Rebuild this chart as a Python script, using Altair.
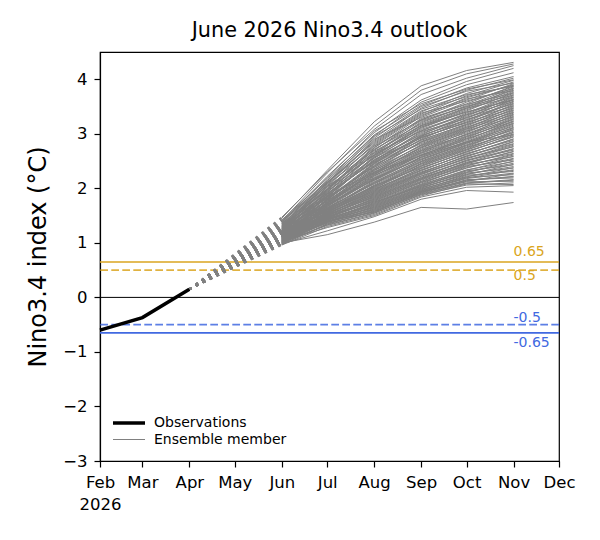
import altair as alt
import pandas as pd

# ---------------- data ----------------
month_ticks = ["2026-02-01", "2026-03-01", "2026-04-01", "2026-05-01", "2026-06-01",
               "2026-07-01", "2026-08-01", "2026-09-01", "2026-10-01", "2026-11-01",
               "2026-12-01"]

obs_dates = ["2026-02-01", "2026-03-01", "2026-04-01"]
obs_values = [-0.60, -0.37, 0.15]

fc_dates = ["2026-06-01", "2026-07-01", "2026-08-01", "2026-09-01", "2026-10-01", "2026-11-01"]

# each member: Jun, Jul, Aug, Sep, Oct, Nov
ensemble = [
    [1.45, 2.33, 3.22, 3.88, 4.16, 4.31],
    [1.40, 2.28, 3.14, 3.80, 4.10, 4.28],
    [1.47, 2.30, 3.08, 3.72, 4.02, 4.25],
    [1.38, 2.22, 3.02, 3.62, 3.96, 4.20],
    [1.42, 2.18, 2.96, 3.58, 3.90, 4.12],
    [1.36, 2.15, 2.98, 3.52, 3.84, 4.05],
    [1.31, 2.10, 2.88, 3.47, 3.80, 4.02],
    [1.34, 2.12, 2.84, 3.40, 3.74, 3.98],
    [1.28, 2.05, 2.80, 3.36, 3.70, 3.95],
    [1.30, 2.06, 2.90, 3.30, 3.62, 3.92],
    [1.25, 2.00, 2.74, 3.32, 3.66, 3.90],
    [1.39, 2.08, 2.70, 3.28, 3.55, 3.88],
    [1.22, 1.98, 2.77, 3.25, 3.58, 3.86],
    [1.27, 2.02, 2.66, 3.20, 3.52, 3.84],
    [1.33, 1.96, 2.72, 3.18, 3.48, 3.82],
    [1.20, 1.95, 2.62, 3.22, 3.50, 3.80],
    [1.24, 1.92, 2.68, 3.14, 3.46, 3.78],
    [1.35, 2.04, 2.60, 3.10, 3.42, 3.76],
    [1.18, 1.90, 2.58, 3.12, 3.44, 3.74],
    [1.26, 1.88, 2.64, 3.05, 3.38, 3.72],
    [1.21, 1.94, 2.55, 3.08, 3.36, 3.70],
    [1.29, 1.86, 2.52, 3.02, 3.32, 3.68],
    [1.16, 1.84, 2.56, 2.98, 3.34, 3.66],
    [1.23, 1.89, 2.50, 3.04, 3.28, 3.64],
    [1.32, 1.91, 2.48, 2.95, 3.30, 3.62],
    [1.14, 1.80, 2.45, 2.97, 3.24, 3.60],
    [1.19, 1.85, 2.53, 2.92, 3.22, 3.58],
    [1.28, 1.82, 2.42, 2.90, 3.26, 3.56],
    [1.12, 1.78, 2.46, 2.88, 3.18, 3.54],
    [1.17, 1.83, 2.40, 2.94, 3.20, 3.52],
    [1.25, 1.76, 2.38, 2.85, 3.14, 3.50],
    [1.10, 1.75, 2.35, 2.86, 3.16, 3.48],
    [1.21, 1.79, 2.44, 2.82, 3.10, 3.46],
    [1.15, 1.72, 2.32, 2.80, 3.12, 3.44],
    [1.30, 1.81, 2.36, 2.78, 3.06, 3.42],
    [1.08, 1.70, 2.30, 2.76, 3.08, 3.40],
    [1.13, 1.74, 2.28, 2.74, 3.02, 3.38],
    [1.22, 1.77, 2.34, 2.70, 3.04, 3.36],
    [1.11, 1.68, 2.25, 2.72, 2.98, 3.34],
    [1.19, 1.73, 2.26, 2.66, 3.00, 3.32],
    [1.06, 1.66, 2.22, 2.68, 2.96, 3.30],
    [1.16, 1.70, 2.20, 2.64, 2.92, 3.28],
    [1.26, 1.72, 2.24, 2.60, 2.94, 3.26],
    [1.09, 1.64, 2.18, 2.62, 2.88, 3.24],
    [1.14, 1.67, 2.16, 2.58, 2.90, 3.22],
    [1.04, 1.62, 2.14, 2.56, 2.86, 3.20],
    [1.20, 1.69, 2.19, 2.54, 2.84, 3.18],
    [1.12, 1.63, 2.12, 2.52, 2.82, 3.16],
    [1.07, 1.60, 2.10, 2.50, 2.80, 3.12],
    [1.18, 1.65, 2.08, 2.48, 2.76, 3.10],
    [1.02, 1.58, 2.06, 2.46, 2.78, 3.08],
    [1.10, 1.61, 2.04, 2.44, 2.72, 3.05],
    [1.15, 1.59, 2.02, 2.42, 2.74, 3.02],
    [1.05, 1.56, 2.00, 2.40, 2.70, 3.00],
    [1.23, 1.62, 2.05, 2.38, 2.66, 2.97],
    [1.08, 1.55, 1.98, 2.36, 2.68, 2.94],
    [1.13, 1.57, 1.96, 2.34, 2.62, 2.91],
    [1.01, 1.53, 1.95, 2.32, 2.64, 2.88],
    [1.17, 1.58, 1.94, 2.30, 2.58, 2.85],
    [1.06, 1.52, 1.92, 2.28, 2.60, 2.82],
    [1.11, 1.54, 1.90, 2.26, 2.54, 2.79],
    [1.03, 1.50, 1.88, 2.25, 2.56, 2.76],
    [1.19, 1.55, 1.87, 2.22, 2.50, 2.73],
    [1.07, 1.49, 1.86, 2.20, 2.52, 2.70],
    [1.14, 1.51, 1.84, 2.18, 2.46, 2.67],
    [1.00, 1.47, 1.82, 2.17, 2.48, 2.64],
    [1.09, 1.48, 1.80, 2.15, 2.42, 2.61],
    [1.16, 1.50, 1.79, 2.12, 2.44, 2.58],
    [1.04, 1.45, 1.78, 2.10, 2.38, 2.55],
    [1.12, 1.46, 1.76, 2.08, 2.40, 2.52],
    [0.99, 1.43, 1.74, 2.07, 2.34, 2.49],
    [1.08, 1.44, 1.72, 2.05, 2.30, 2.46],
    [1.21, 1.48, 1.75, 2.03, 2.32, 2.43],
    [1.02, 1.41, 1.70, 2.02, 2.26, 2.40],
    [1.10, 1.42, 1.68, 2.00, 2.28, 2.37],
    [0.98, 1.39, 1.66, 1.98, 2.22, 2.34],
    [1.06, 1.40, 1.65, 1.97, 2.24, 2.31],
    [1.15, 1.43, 1.64, 1.95, 2.18, 2.28],
    [1.01, 1.37, 1.62, 1.96, 2.20, 2.25],
    [1.09, 1.38, 1.60, 1.94, 2.14, 2.22],
    [0.97, 1.35, 1.58, 1.92, 2.16, 2.19],
    [1.05, 1.36, 1.57, 1.90, 2.10, 2.16],
    [1.13, 1.40, 1.56, 1.93, 2.12, 2.13],
    [1.00, 1.33, 1.55, 1.88, 2.06, 2.10],
    [0.96, 1.30, 1.52, 1.86, 2.08, 2.07],
    [1.03, 1.28, 1.50, 1.84, 2.02, 2.05],
    [0.98, 1.22, 1.48, 1.80, 1.96, 1.93],
    [1.00, 1.15, 1.38, 1.65, 1.62, 1.74],
    [1.37, 2.20, 3.05, 3.55, 3.82, 3.99],
    [1.32, 2.14, 2.92, 3.50, 3.78, 3.93],
    [1.29, 2.09, 2.86, 3.42, 3.68, 3.89],
    [1.24, 2.03, 2.82, 3.38, 3.60, 3.83],
    [1.41, 2.11, 2.78, 3.34, 3.64, 3.79],
    [1.18, 1.97, 2.75, 3.26, 3.54, 3.75],
    [1.27, 1.99, 2.70, 3.24, 3.50, 3.71],
    [1.22, 1.93, 2.65, 3.16, 3.47, 3.67],
    [1.36, 1.98, 2.61, 3.12, 3.40, 3.63],
    [1.15, 1.87, 2.57, 3.06, 3.35, 3.59],
    [1.20, 1.86, 2.51, 3.00, 3.30, 3.55],
    [1.31, 1.90, 2.49, 2.96, 3.26, 3.51],
    [1.10, 1.81, 2.47, 2.93, 3.21, 3.47],
    [1.17, 1.79, 2.41, 2.89, 3.17, 3.43],
    [1.27, 1.84, 2.39, 2.84, 3.12, 3.39],
    [1.07, 1.73, 2.33, 2.79, 3.09, 3.35],
    [1.14, 1.75, 2.29, 2.75, 3.05, 3.31],
    [1.24, 1.78, 2.27, 2.69, 2.99, 3.27],
    [1.05, 1.67, 2.23, 2.65, 2.95, 3.23],
    [1.12, 1.69, 2.17, 2.61, 2.91, 3.19],
    [1.19, 1.71, 2.15, 2.57, 2.85, 3.14],
    [1.03, 1.63, 2.11, 2.53, 2.83, 3.11],
    [1.11, 1.64, 2.09, 2.49, 2.79, 3.07],
    [1.16, 1.61, 2.03, 2.45, 2.75, 3.03],
    [1.02, 1.57, 2.01, 2.41, 2.71, 2.99],
    [1.09, 1.56, 1.97, 2.37, 2.67, 2.95],
    [1.20, 1.60, 1.99, 2.33, 2.63, 2.90],
    [1.04, 1.54, 1.93, 2.29, 2.59, 2.86],
    [1.13, 1.53, 1.91, 2.27, 2.55, 2.81],
    [1.00, 1.50, 1.89, 2.23, 2.51, 2.77],
    [1.08, 1.51, 1.85, 2.19, 2.47, 2.72],
    [1.17, 1.52, 1.83, 2.16, 2.45, 2.68],
    [1.03, 1.46, 1.81, 2.13, 2.41, 2.63],
    [1.10, 1.47, 1.77, 2.11, 2.37, 2.59],
    [0.99, 1.42, 1.73, 2.06, 2.33, 2.54],
    [1.07, 1.44, 1.71, 2.04, 2.29, 2.50],
    [1.14, 1.45, 1.69, 2.01, 2.25, 2.44],
    [1.01, 1.39, 1.67, 1.99, 2.21, 2.38],
    [1.05, 1.38, 1.63, 1.95, 2.19, 2.33],
    [0.97, 1.34, 1.59, 1.91, 2.13, 2.27],
    [1.11, 1.39, 1.61, 1.93, 2.15, 2.21],
    [1.02, 1.32, 1.54, 1.89, 2.09, 2.15],
    [1.20, 2.10, 2.95, 3.45, 3.72, 3.87],
    [1.05, 1.80, 2.60, 3.15, 3.40, 3.62],
    [1.35, 1.85, 2.30, 2.60, 2.85, 2.98],
]

thresholds = [0.65, 0.5, -0.5, -0.65]
threshold_labels = ["0.65", "0.5", "-0.5", "-0.65"]
series_names = ["Observations", "Ensemble member"]

title_text = "June 2026 Nino3.4 outlook"
y_title = "Nino3.4 index (°C)"

# ---------------- tables ----------------
obs_df = pd.DataFrame({"date": obs_dates, "value": obs_values, "series": series_names[0]})

ens_rows, conn_rows = [], []
for i, member in enumerate(ensemble):
    for d, v in zip(fc_dates, member):
        ens_rows.append({"member": i, "date": d, "value": v, "series": series_names[1]})
    conn_rows.append({"member": i, "date": obs_dates[-1], "value": obs_values[-1]})
    conn_rows.append({"member": i, "date": fc_dates[0], "value": member[0]})
ens_df = pd.DataFrame(ens_rows)
conn_df = pd.DataFrame(conn_rows)

FONT = "DejaVu Sans"
GOLD = "#DAA520"
BLUE = "#4169E1"


def dt(s):
    y, m, d = (int(p) for p in s.split("-"))
    return alt.DateTime(year=y, month=m, date=d, utc=True)


x_enc = alt.X(
    "date:T",
    scale=alt.Scale(type="utc", domain=[dt(month_ticks[0]), dt(month_ticks[-1])]),
    axis=alt.Axis(
        title=None,
        values=[dt(s) for s in month_ticks],
        labelExpr="utcmonth(datum.value) == 1 ? [utcFormat(datum.value, '%b'), utcFormat(datum.value, '%Y')] : utcFormat(datum.value, '%b')",
        labelFlush=False,
        labelOverlap=False,
        labelBound=False,
        labelLineHeight=22,
        labelPadding=7,
        grid=False,
    ),
)
y_enc = alt.Y(
    "value:Q",
    scale=alt.Scale(domain=[-3, 4.5], nice=False, zero=False),
    axis=alt.Axis(
        title=y_title,
        values=list(range(-3, 5)),
        format="d",
        labelExpr="replace(datum.label, '-', '\u2212')",
        labelPadding=7,
        titlePadding=12,
        titleFontSize=24,
        titleFontWeight="normal",
        titleFont=FONT,
        titleColor="black",
        grid=False,
    ),
)

color_scale = alt.Scale(domain=series_names, range=["black", "gray"])
width_scale = alt.Scale(domain=series_names, range=[3.5, 1.0])
legend = alt.Legend(
    title=None,
    orient="bottom-left",
    symbolType="M-1.375,0H2.625",
    symbolSize=256,
    labelFontSize=14,
    labelFont=FONT,
    labelColor="black",
    labelOffset=20,
    offset=14,
    padding=0,
    rowPadding=1,
)

# threshold lines
rules = []
rule_styles = [
    dict(color=GOLD, strokeWidth=1.6),
    dict(color=GOLD, strokeWidth=1.6, strokeDash=[7.7, 3.3], opacity=0.85),
    dict(color=BLUE, strokeWidth=1.6, strokeDash=[7.7, 3.3], opacity=0.85),
    dict(color=BLUE, strokeWidth=1.6),
]
for v, style in zip(thresholds, rule_styles):
    rules.append(
        alt.Chart(pd.DataFrame({"value": [v]})).mark_rule(**style).encode(y="value:Q")
    )
zero_rule = alt.Chart(pd.DataFrame({"value": [0.0]})).mark_rule(color="black", strokeWidth=1).encode(y="value:Q")

# threshold labels
label_styles = [
    dict(color=GOLD, dy=-6, baseline="alphabetic"),
    dict(color=GOLD, dy=-1, baseline="top"),
    dict(color=BLUE, dy=-3, baseline="alphabetic"),
    dict(color=BLUE, dy=3, baseline="top"),
]
texts = []
for v, lab, style in zip(thresholds, threshold_labels, label_styles):
    df = pd.DataFrame({"date": [fc_dates[-1]], "value": [v], "label": [lab]})
    texts.append(
        alt.Chart(df).mark_text(align="left", fontSize=14, font=FONT, **style).encode(
            x="date:T", y="value:Q", text="label:N"
        )
    )

connectors = alt.Chart(conn_df).mark_line(
    color="gray", strokeWidth=1.7, strokeDash=[2.6, 5]
).encode(x="date:T", y="value:Q", detail="member:N")

ens_lines = alt.Chart(ens_df).mark_line().encode(
    x=x_enc,
    y=y_enc,
    detail="member:N",
    color=alt.Color("series:N", scale=color_scale, legend=legend),
    strokeWidth=alt.StrokeWidth("series:N", scale=width_scale, legend=legend),
)

obs_line = alt.Chart(obs_df).mark_line().encode(
    x="date:T",
    y="value:Q",
    color=alt.Color("series:N", scale=color_scale, legend=legend),
    strokeWidth=alt.StrokeWidth("series:N", scale=width_scale, legend=legend),
)

chart = alt.layer(
    ens_lines, *rules, zero_rule, connectors, obs_line, *texts
).properties(
    width=459,
    height=409,
    title=alt.TitleParams(
        title_text, fontSize=20.8, font=FONT, fontWeight="normal", color="black",
        anchor="middle", frame="group", offset=12, dy=18, baseline="alphabetic",
    ),
    autosize="none",
    padding={"left": 100, "top": 52, "right": 41, "bottom": 79},
    background="white",
).configure_axis(
    labelFont=FONT,
    labelFontSize=16.5,
    labelColor="black",
    tickColor="black",
    domainColor="black",
    tickSize=6,
    tickWidth=1.2,
    domainWidth=1.2,
    grid=False,
).configure_view(
    stroke="black",
    strokeWidth=1.2,
)

chart.save("out.html", embed_options={"renderer": "svg", "actions": False})
